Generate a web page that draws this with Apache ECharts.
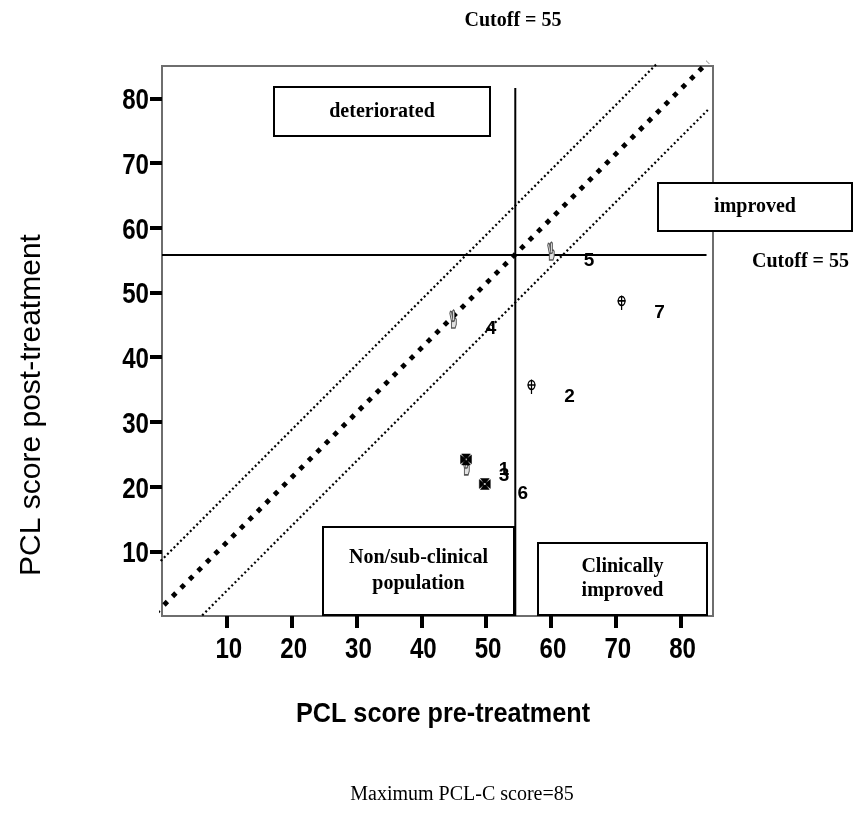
<!DOCTYPE html>
<html>
<head>
<meta charset="utf-8">
<script src="https://cdn.jsdelivr.net/npm/echarts@6/dist/echarts.min.js"></script>
<style>html,body{margin:0;padding:0;background:#fff}#c{width:854px;height:830px}</style>
</head>
<body>
<div id="c"></div>
<script>
// ---- data ----
const pointLabels = ['1', '2', '3', '4', '5', '6', '7'];
const preScores   = [46.9, 57.0, 46.9, 44.9, 60.0, 49.8, 70.9];
const postScores  = [24.2, 35.7, 23.2, 45.9, 56.4, 20.4, 48.7];
const markerKinds = ['cross', 'target', 'hand', 'hand', 'hand', 'cross', 'target'];
const axisTickValues = [10, 20, 30, 40, 50, 60, 70, 80];
const axisTickLabels = ['10', '20', '30', '40', '50', '60', '70', '80'];
const axisMax = 85;
// reference lines (pre, post)
const noChangeLine = [[-1.0, 0.4], [84.2, 85.6]];
const upperBandLine = [[-1.2, 7.5], [76.5, 85.5]];
const lowerBandLine = [[6.2, 0.1], [84.2, 78.2]];
const postCutoffLine = [[0, 55.8], [84, 55.8]];
const preCutoffLine = [[54.5, 0], [54.5, 81.6]];

// ---- styles ----
const SYMBOLS = {
  hand: {
    symbol: 'path://M2.5 17 L2.5 10.5 L0 3 L0.8 1.2 L2.6 1.6 L4.3 7.5 L4.3 1 L5.8 0 L7.2 1 L7.2 8 L8.6 7.6 L10 8.8 L10 13.5 L8.3 17 Z M2.5 10.5 L7.2 10.5 M7.2 8 L7.2 10.5',
    size: [11, 18], offset: [0, 0],
    style: { color: '#e2e2e2', borderColor: '#555', borderWidth: 1.2, opacity: 1 }, z: 4
  },
  target: {
    symbol: 'path://M-4.5 0 A4.5 4.5 0 1 0 4.5 0 A4.5 4.5 0 1 0 -4.5 0 M-5.5 0 L5.5 0 M0 -5.5 L0 9',
    size: [11, 14.5], offset: [0, 1.75],
    style: { color: '#fff', borderColor: '#000', borderWidth: 1.4, opacity: 1 }, z: 5
  },
  cross: {
    symbol: 'path://M-1 -1 L-4 -5 L4 -5 L1 -1 Z M1 -1 L5 -4 L5 4 L1 1 Z M1 1 L4 5 L-4 5 L-1 1 Z M-1 1 L-5 4 L-5 -4 L-1 -1 Z',
    size: [11, 11], offset: [0, 0],
    style: { color: '#000', borderColor: '#000', borderWidth: 0.5, opacity: 1 }, z: 6
  }
};

const frameColor = '#6e6e6e';
const boxFont = "bold 20px 'Liberation Serif', 'Times New Roman', serif";
const tickFont = "bold 29px 'Liberation Sans', Arial, sans-serif";
const condense = 0.83;

function refLine(data, width, type, z) {
  return {
    type: 'line', data: data, symbol: 'none', clip: false, silent: true, z: z,
    lineStyle: { color: '#000', width: width, type: type, cap: 'butt', opacity: 1 }
  };
}

const markerSeries = Object.keys(SYMBOLS).map(kind => {
  const s = SYMBOLS[kind];
  const data = [];
  pointLabels.forEach((id, i) => {
    if (markerKinds[i] === kind) data.push({ name: id, value: [preScores[i], postScores[i]] });
  });
  return {
    type: 'scatter', data: data, symbol: s.symbol, symbolSize: s.size,
    symbolOffset: s.offset, symbolKeepAspect: true, itemStyle: s.style, z: s.z,
    emphasis: { disabled: true },
    label: {
      show: true, position: 'inside', offset: [38, 10], formatter: p => p.name,
      color: '#000', opacity: 1, textBorderWidth: 0, textBorderColor: 'transparent',
      fontSize: 19, fontWeight: 'bold', fontFamily: "'Liberation Sans', Arial, sans-serif"
    }
  };
});

function box(x, y, w, h, lines, lineH) {
  const els = [{
    type: 'rect', z: 100, shape: { x: x, y: y, width: w, height: h },
    style: { fill: '#fff', stroke: '#000', lineWidth: 2 }
  }];
  const cy = y + h / 2 - (lines.length - 1) * lineH / 2;
  lines.forEach((t, i) => els.push({
    type: 'text', z: 101, x: x + w / 2, y: cy + i * lineH,
    style: { text: t, font: boxFont, fill: '#000', align: 'center', verticalAlign: 'middle' }
  }));
  return els;
}

const staticGraphics = [].concat(
  box(274, 87, 216, 49, ['deteriorated'], 24),
  box(658, 183, 194, 48, ['improved'], 24),
  box(323, 527, 191, 88, ['Non/sub-clinical', 'population'], 26),
  box(538, 543, 169, 72, ['Clinically', 'improved'], 24),
  [
    { type: 'text', z: 101, x: 513, y: 21, style: { text: 'Cutoff = 55', font: boxFont, fill: '#000', align: 'center', verticalAlign: 'middle' } },
    { type: 'text', z: 101, x: 752, y: 262, style: { text: 'Cutoff = 55', font: boxFont, fill: '#000', align: 'left', verticalAlign: 'middle' } },
    { type: 'text', z: 101, x: 32, y: 405, rotation: Math.PI / 2, style: { text: 'PCL score post-treatment', font: "30px 'Liberation Sans', Arial, sans-serif", fill: '#000', align: 'center', verticalAlign: 'middle' } },
    { type: 'text', z: 101, x: 443, y: 714, scaleX: 0.9, style: { text: 'PCL score pre-treatment', font: "bold 28px 'Liberation Sans', Arial, sans-serif", fill: '#000', align: 'center', verticalAlign: 'middle' } },
    { type: 'text', z: 101, x: 462, y: 795, style: { text: 'Maximum PCL-C score=85', font: "20px 'Liberation Serif', 'Times New Roman', serif", fill: '#000', align: 'center', verticalAlign: 'middle' } }
  ]
);

const chart = echarts.init(document.getElementById('c'), null, { renderer: 'canvas' });
chart.setOption({
  animation: false,
  backgroundColor: '#fff',
  grid: { left: 162, right: 141, top: 66, bottom: 214, show: true, borderColor: frameColor, borderWidth: 2 },
  xAxis: {
    type: 'value', min: 0, max: axisMax,
    axisLine: { show: true, lineStyle: { color: frameColor, width: 2 } },
    axisTick: { show: true, customValues: axisTickValues, length: 12, lineStyle: { color: '#000', width: 4 } },
    axisLabel: { show: false },
    splitLine: { show: false }
  },
  yAxis: {
    type: 'value', min: 0, max: axisMax,
    axisLine: { show: true, lineStyle: { color: frameColor, width: 2 } },
    axisTick: { show: true, customValues: axisTickValues, length: 12, lineStyle: { color: '#000', width: 4 } },
    axisLabel: { show: false },
    splitLine: { show: false }
  },
  series: [
    refLine(upperBandLine, 2.2, [2, 2.6], 2),
    refLine(lowerBandLine, 2.2, [2, 2.6], 2),
    refLine(noChangeLine, 4.8, [4.8, 7.2], 3),
    refLine(postCutoffLine, 2, 'solid', 3),
    refLine(preCutoffLine, 2, 'solid', 3)
  ].concat(markerSeries),
  graphic: { elements: staticGraphics }
});

// condensed bold tick labels placed at the axis scale positions
const gridBottomPx = chart.convertToPixel({ yAxisIndex: 0 }, 0);
const gridLeftPx = chart.convertToPixel({ xAxisIndex: 0 }, 0);
const tickLabelGraphics = [];
axisTickValues.forEach((v, i) => {
  tickLabelGraphics.push({
    type: 'text', z: 101, x: chart.convertToPixel({ xAxisIndex: 0 }, v) + 2, y: gridBottomPx + 34, scaleX: condense,
    style: { text: axisTickLabels[i], font: tickFont, fill: '#000', align: 'center', verticalAlign: 'middle' }
  });
  tickLabelGraphics.push({
    type: 'text', z: 101, x: gridLeftPx - 13, y: chart.convertToPixel({ yAxisIndex: 0 }, v) + 3, scaleX: condense,
    style: { text: axisTickLabels[i], font: tickFont, fill: '#000', align: 'right', verticalAlign: 'middle' }
  });
});
chart.setOption({ graphic: { elements: staticGraphics.concat(tickLabelGraphics) } });
</script>
</body>
</html>
